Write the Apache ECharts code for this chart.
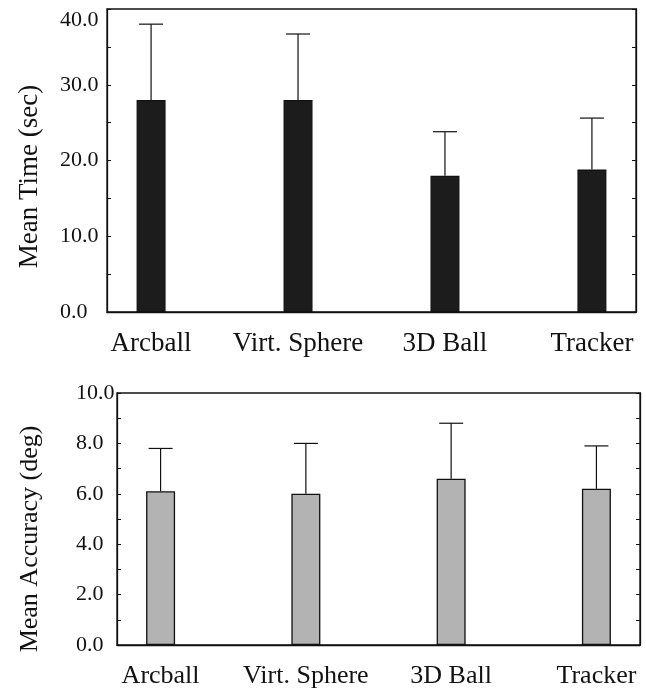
<!DOCTYPE html>
<html>
<head>
<meta charset="utf-8">
<script src="https://cdn.jsdelivr.net/npm/echarts@6/dist/echarts.min.js"></script>
<style>
  html, body { margin: 0; padding: 0; background: #fff; }
  #chart { width: 646px; height: 689px; }
</style>
</head>
<body>
<div id="chart"></div>
<script>
// categories (x positions 0..3)
const methods = ["Arcball", "Virt. Sphere", "3D Ball", "Tracker"];

// top panel: mean time (sec) and the upward error bar length
const timeMean = [28.0, 28.0, 18.0, 18.8];
const timeSd = [10.0, 8.7, 5.8, 6.8];

// bottom panel: mean accuracy (deg) and the upward error bar length
const accMean = [6.1, 6.0, 6.6, 6.2];
const accSd = [1.7, 2.0, 2.2, 1.7];

const timeTicks = { min: 0, max: 40, interval: 10 };
const accTicks = { min: 0, max: 10, interval: 2 };

const serif = "Liberation Serif";
const ink = "#111";

function xAxisFor(gridIndex, fontSize, margin) {
  return {
    type: "value",
    gridIndex: gridIndex,
    min: -0.3,
    max: 3.3,
    axisLine: { show: true, onZero: false, lineStyle: { color: ink, width: 1.3 } },
    axisTick: { show: false },
    splitLine: { show: false },
    axisLabel: {
      customValues: [0, 1, 2, 3],
      formatter: v => methods[Math.round(v)],
      fontFamily: serif,
      fontSize: fontSize,
      color: ink,
      margin: margin
    }
  };
}

function yAxisFor(gridIndex, ticks, position, opts) {
  return {
    type: "value",
    gridIndex: gridIndex,
    position: position,
    min: ticks.min,
    max: ticks.max,
    interval: ticks.interval,
    name: opts.name || "",
    nameLocation: "middle",
    nameGap: opts.nameGap || 0,
    nameTextStyle: {
      fontFamily: serif,
      fontSize: opts.nameSize || 26,
      color: ink,
      padding: [0, opts.nameShift || 0, 0, 0]
    },
    axisLine: { show: true, onZero: false, lineStyle: { color: ink, width: 1.3 } },
    axisTick: { show: true, inside: true, length: 4, lineStyle: { color: ink } },
    minorTick: { show: true, splitNumber: opts.minorSplit, length: 4, lineStyle: { color: ink } },
    splitLine: { show: false },
    axisLabel: {
      show: position === "left",
      align: "left",
      margin: opts.labelMargin || 0,
      fontFamily: serif,
      fontSize: 22,
      color: ink,
      formatter: v => (opts.dropTop && v === ticks.max) ? "{low|" + v.toFixed(1) + "}" : v.toFixed(1),
      rich: {
        low: { fontFamily: serif, fontSize: 22, color: ink, padding: [22, 0, 0, 0] }
      }
    }
  };
}

function barSeries(idx, means, fill) {
  return {
    type: "bar",
    xAxisIndex: idx,
    yAxisIndex: idx * 2,
    barWidth: 29,
    data: means.map((m, i) => [i, m]),
    itemStyle: { color: fill, borderColor: "#111", borderWidth: 1.3 },
    silent: true
  };
}

function errSeries(idx, means, sds) {
  return {
    type: "custom",
    xAxisIndex: idx,
    yAxisIndex: idx * 2,
    data: means.map((m, i) => [i, m, m + sds[i]]),
    encode: { x: 0, y: [1, 2] },
    z: 3,
    silent: true,
    renderItem: function (params, api) {
      const lo = api.coord([api.value(0), api.value(1)]);
      const hi = api.coord([api.value(0), api.value(2)]);
      const half = 12;
      const style = { stroke: ink, lineWidth: 1.2 };
      return {
        type: "group",
        children: [
          { type: "line", shape: { x1: lo[0], y1: lo[1], x2: hi[0], y2: hi[1] }, style: style },
          { type: "line", shape: { x1: hi[0] - half, y1: hi[1], x2: hi[0] + half, y2: hi[1] }, style: style }
        ]
      };
    }
  };
}

const chart = echarts.init(document.getElementById("chart"));
chart.setOption({
  animation: false,
  backgroundColor: "#fff",
  grid: [
    { left: 107, right: 10, top: 9, bottom: 377, show: true, borderColor: ink, borderWidth: 1.3 },
    { left: 117, right: 6, top: 393, bottom: 43, show: true, borderColor: ink, borderWidth: 1.3 }
  ],
  xAxis: [xAxisFor(0, 27, 18), xAxisFor(1, 26, 18)],
  yAxis: [
    yAxisFor(0, timeTicks, "left", {
      name: "Mean Time (sec)", nameSize: 27, nameGap: 64, nameShift: 32,
      labelMargin: 47, minorSplit: 2, dropTop: true
    }),
    yAxisFor(0, timeTicks, "right", { minorSplit: 2 }),
    yAxisFor(1, accTicks, "left", {
      name: "Mean Accuracy (deg)", nameSize: 26, nameGap: 74, nameShift: 40,
      labelMargin: 41, minorSplit: 2
    }),
    yAxisFor(1, accTicks, "right", { minorSplit: 2 })
  ],
  series: [
    barSeries(0, timeMean, "#1c1c1c"),
    errSeries(0, timeMean, timeSd),
    barSeries(1, accMean, "#b3b3b3"),
    errSeries(1, accMean, accSd)
  ]
});
</script>
</body>
</html>
